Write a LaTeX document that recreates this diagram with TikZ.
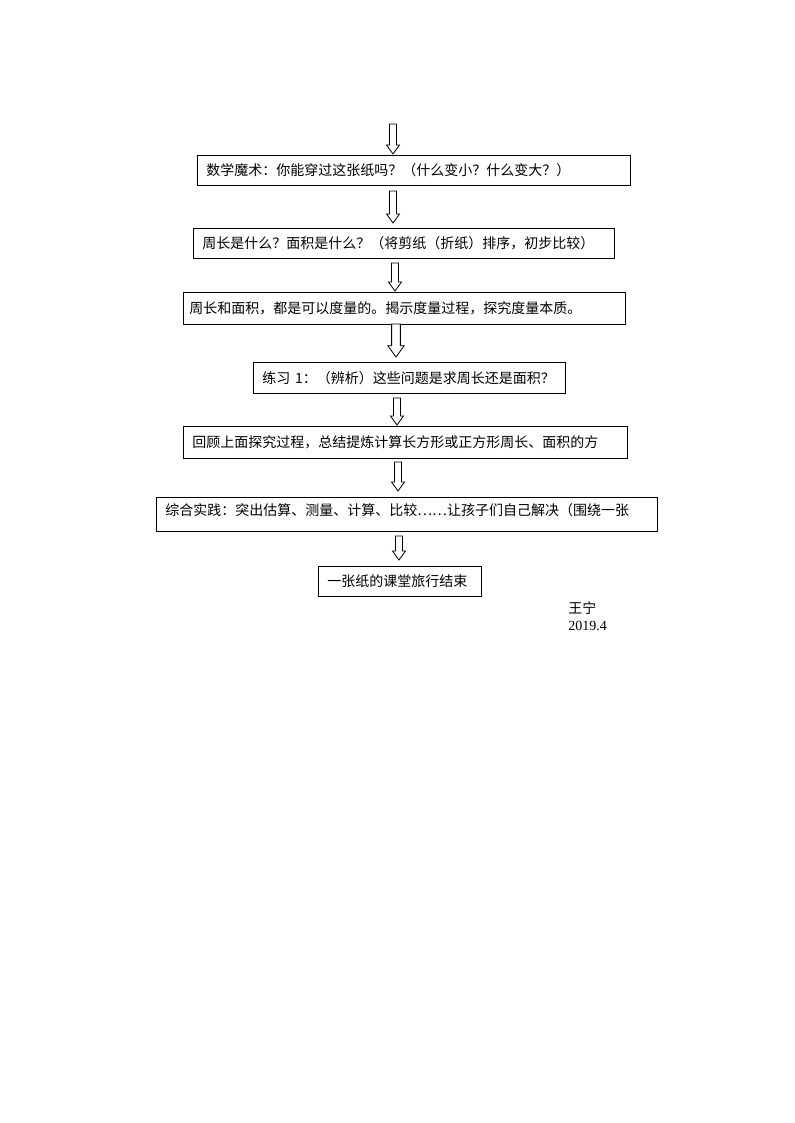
\documentclass[tikz,border=0pt]{standalone}
\usepackage{fontspec}
\setmainfont{Liberation Serif}
\newfontfamily\cjk{Noto Sans CJK SC}
\usetikzlibrary{calc}
\tikzset{
  stepbox/.style={draw, line width=0.6pt, anchor=north west, align=left, inner xsep=6.75pt, inner ysep=0pt, font=\cjk\fontsize{10.5}{12}\selectfont},
  blockarrow/.style={draw, line width=0.6pt, fill=white, line join=miter},
}
% hollow block arrow from the top of its shaft (#2) to its tip (#3)
\newcommand{\hollowarrow}[3][1]{%
  \draw[blockarrow] ($(#2)+(-3.5*#1,0)$) -- ($(#3)+(-3.5*#1,-9*#1)$) -- ($(#3)+(-6.5*#1,-9*#1)$) -- (#3)
    -- ($(#3)+(6.5*#1,-9*#1)$) -- ($(#3)+(3.5*#1,-9*#1)$) -- ($(#2)+(3.5*#1,0)$) -- cycle;}
\begin{document}
\begin{tikzpicture}[x=0.75pt,y=-0.75pt]
	\useasboundingbox (0,0) rectangle (794,1123);
	% steps
	\node[stepbox, text width=311.25pt, minimum height=22.5pt] (magic) at (197,155) {数学魔术：你能穿过这张纸吗？（什么变小？什么变大？）};
	\node[stepbox, text width=302.25pt, minimum height=22.5pt] (what) at (193,228) {周长是什么？面积是什么？（将剪纸（折纸）排序，初步比较）};
	\node[stepbox, inner xsep=4.5pt, text width=322.5pt, minimum height=24pt] (measure) at (183,292) {周长和面积，都是可以度量的。揭示度量过程，探究度量本质。};
	\node[stepbox, text width=220.5pt, minimum height=23.25pt] (practice) at (253,362) {练习 1：（辨析）这些问题是求周长还是面积？};
	\node[stepbox, text width=319.5pt, minimum height=24pt] (review) at (183,426) {回顾上面探究过程，总结提炼计算长方形或正方形周长、面积的方};
	\node[stepbox, text width=362.25pt, inner ysep=3pt, text height=10.75pt, text depth=8.75pt] (apply) at (156,497) {综合实践：突出估算、测量、计算、比较……让孩子们自己解决（围绕一张};
	\node[stepbox, text width=108.75pt, minimum height=22.5pt] (finish) at (318,566) {一张纸的课堂旅行结束};
	% arrows
	\foreach \n/\x/\t/\b in {0/393/124/154, 1/393/191/223, 2/395/263/291, 3/396/324/357, 4/397/398/425, 5/398/462/491, 6/399/536/560}{
		\coordinate (top\n) at (\x,\t);
		\coordinate (tip\n) at (\x,\b);
	}
	\hollowarrow{top0}{tip0}
	\hollowarrow{top1}{tip1}
	\hollowarrow{top2}{tip2}
	\hollowarrow[1.25]{top3}{tip3}
	\hollowarrow{top4}{tip4}
	\hollowarrow{top5}{tip5}
	\hollowarrow{top6}{tip6}
	% signature
	\node[anchor=north west, inner sep=0pt, font=\cjk\fontsize{10.5}{12}\selectfont] (name) at (568,601) {王宁};
	\node[anchor=north west, inner sep=0pt, font=\fontsize{10.5}{12}\selectfont] (date) at (568,621) {2019.4};
\end{tikzpicture}
\end{document}
